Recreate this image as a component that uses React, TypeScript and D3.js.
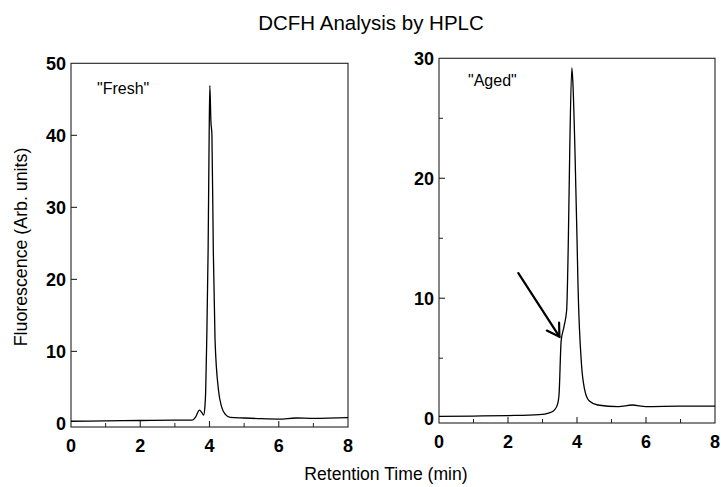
import React from "react";
import * as d3 from "d3";

const title = "DCFH Analysis by HPLC";
const xLabel = "Retention Time (min)";
const yLabel = "Fluorescence (Arb. units)";
const xTicks = [0, 2, 4, 6, 8];
const xMinorTicks = [1, 3, 5, 7];
const freshYTicks = [0, 10, 20, 30, 40, 50];
const agedYTicks = [0, 10, 20, 30];
const agedYMinor = [5, 15, 25];

// [retention time, fluorescence]
const freshTime = [0, 1, 2, 3, 3.5, 3.6, 3.71, 3.78, 3.83, 3.87, 3.89, 3.92, 3.96, 3.99, 4.01, 4.04, 4.07, 4.11, 4.16, 4.26, 4.35, 4.45, 4.6, 5, 5.5, 6, 6.5, 7, 8];
const freshValue = [0.3, 0.35, 0.4, 0.45, 0.45, 0.9, 1.85, 1.5, 1.15, 2.5, 4.6, 11.6, 24, 40, 46.9, 42, 40, 24, 11.6, 4.6, 2.3, 1.3, 0.85, 0.75, 0.65, 0.6, 0.75, 0.7, 0.8];

const agedTime = [0, 1, 2, 2.9, 3.2, 3.35, 3.44, 3.48, 3.54, 3.62, 3.7, 3.75, 3.79, 3.85, 3.88, 3.94, 4.0, 4.03, 4.13, 4.22, 4.35, 4.6, 5.2, 5.6, 6.0, 7, 8];
const agedValue = [0.15, 0.18, 0.22, 0.3, 0.45, 0.7, 1.2, 2.0, 6.4, 7.6, 9.0, 15, 22.4, 29.2, 28, 22.4, 15, 11, 4.5, 2.4, 1.45, 1.1, 0.97, 1.1, 0.97, 1.0, 1.0];

// arrow in "Aged" panel: [x, y] start and tip in data units
const arrowFrom = [2.3, 12.1];
const arrowTo = [3.49, 6.8];

const FONT = "'Liberation Sans', Arial, sans-serif";

type PanelProps = {
  x0: number; x1: number; yTop: number; yBot: number;
  yDomain: [number, number];
  yTicks: number[]; yMinor: number[];
  times: number[]; values: number[];
  label: string; labelPos: [number, number];
  arrow?: boolean;
};

function Panel(p: PanelProps) {
  const x = d3.scaleLinear().domain([0, 8]).range([p.x0, p.x1]);
  const y = d3.scaleLinear().domain(p.yDomain).range([p.yBot, p.yTop]);
  const pts: [number, number][] = p.times.map((t, i) => [t, p.values[i]]);
  const line = d3.line<[number, number]>().x(d => x(d[0])).y(d => y(d[1])).curve(d3.curveMonotoneX);
  let arrowEl = null;
  if (p.arrow) {
    const ax0 = x(arrowFrom[0]), ay0 = y(arrowFrom[1]);
    const ax1 = x(arrowTo[0]), ay1 = y(arrowTo[1]);
    const ang = Math.atan2(ay1 - ay0, ax1 - ax0);
    const L = 14, w = 0.55;
    const h1 = [ax1 - L * Math.cos(ang - w), ay1 - L * Math.sin(ang - w)];
    const h2 = [ax1 - L * Math.cos(ang + w), ay1 - L * Math.sin(ang + w)];
    arrowEl = (
      <g stroke="#000" strokeWidth={2.2} fill="none" strokeLinecap="round">
        <line x1={ax0} y1={ay0} x2={ax1} y2={ay1} />
        <polyline points={`${h1[0]},${h1[1]} ${ax1},${ay1} ${h2[0]},${h2[1]}`} />
      </g>
    );
  }
  return (
    <g>
      <rect x={p.x0} y={p.yTop} width={p.x1 - p.x0} height={p.yBot - p.yTop} fill="none" stroke="#222" strokeWidth={1.1} />
      {xTicks.slice(1, -1).map(t => (
        <line key={"xt" + t} x1={x(t)} x2={x(t)} y1={p.yBot} y2={p.yBot - 6} stroke="#222" strokeWidth={1.1} />
      ))}
      {xMinorTicks.map(t => (
        <line key={"xm" + t} x1={x(t)} x2={x(t)} y1={p.yBot} y2={p.yBot - 4} stroke="#222" strokeWidth={1} />
      ))}
      {p.yTicks.slice(1, -1).map(t => (
        <line key={"yt" + t} x1={p.x0} x2={p.x0 + 6} y1={y(t)} y2={y(t)} stroke="#222" strokeWidth={1.1} />
      ))}
      {p.yMinor.map(t => (
        <line key={"ym" + t} x1={p.x0} x2={p.x0 + 4} y1={y(t)} y2={y(t)} stroke="#222" strokeWidth={1} />
      ))}
      {xTicks.map(t => (
        <text key={"xl" + t} x={x(t)} y={p.yBot + 25} textAnchor="middle" fontFamily={FONT} fontWeight="bold" fontSize={18}>{t}</text>
      ))}
      {p.yTicks.map(t => (
        <text key={"yl" + t} x={p.x0 - 5} y={y(t) + 6.5} textAnchor="end" fontFamily={FONT} fontWeight="bold" fontSize={18}>{t}</text>
      ))}
      <path d={line(pts) || ""} fill="none" stroke="#000" strokeWidth={1.3} />
      <text x={p.labelPos[0]} y={p.labelPos[1]} fontFamily={FONT} fontSize={16}>{p.label}</text>
      {arrowEl}
    </g>
  );
}

export default function App() {
  return (
    <svg width={721} height={487} style={{ position: "absolute", left: 0, top: 0, background: "#fff" }}>
      <rect width={721} height={487} fill="#fff" />
      <text x={371} y={30} textAnchor="middle" fontFamily={FONT} fontSize={20.5}>{title}</text>
      <text transform="translate(27,247) rotate(-90)" textAnchor="middle" fontFamily={FONT} fontSize={17.8}>{yLabel}</text>
      <text x={386} y={480} textAnchor="middle" fontFamily={FONT} fontSize={17.6}>{xLabel}</text>
      <Panel x0={71} x1={348} yTop={63.3} yBot={427} yDomain={[-0.5, 50]} yTicks={freshYTicks} yMinor={[]}
        times={freshTime} values={freshValue} label={'"Fresh"'} labelPos={[97, 94]} />
      <Panel x0={439} x1={715} yTop={58.3} yBot={423} yDomain={[-0.4, 30]} yTicks={agedYTicks} yMinor={agedYMinor}
        times={agedTime} values={agedValue} label={'"Aged"'} labelPos={[468, 86]} arrow />
    </svg>
  );
}
